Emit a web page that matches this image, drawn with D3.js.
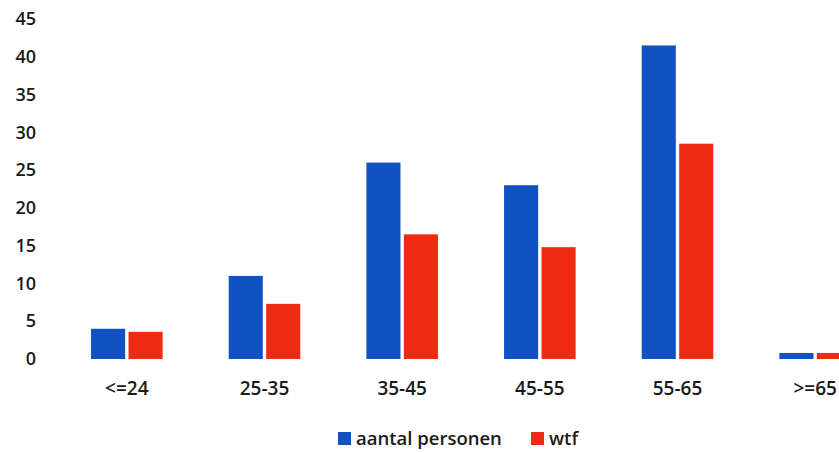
<!DOCTYPE html>
<html>
<head>
<meta charset="utf-8">
<script src="https://cdn.jsdelivr.net/npm/d3@7"></script>
<style>
  body { margin: 0; background: #fff; }
  svg { display: block; font-family: "Open Sans", "Liberation Sans", sans-serif; }
</style>
</head>
<body>
<div id="chart"></div>
<script>
// age groups and the two series
const categories = ["<=24", "25-35", "35-45", "45-55", "55-65", ">=65"];
const seriesNames = ["aantal personen", "wtf"];
const aantal = [4, 11, 26, 23, 41.5, 0.8];
const wtf = [3.6, 7.3, 16.5, 14.8, 28.5, 0.8];
const yTicks = [0, 5, 10, 15, 20, 25, 30, 35, 40, 45];

const colors = ["#1052c2", "#ee2c12"];

const width = 839, height = 453;

const svg = d3.select("#chart").append("svg")
    .attr("width", width)
    .attr("height", height);

// plot runs past the right edge in the scan, so the range does too
const x = d3.scaleBand()
    .domain(categories)
    .range([58, 884])
    .paddingInner(0.48)
    .paddingOuter(0.24);

const xInner = d3.scaleBand()
    .domain(seriesNames)
    .range([0, x.bandwidth()])
    .paddingInner(0.09);

const y = d3.scaleLinear()
    .domain([0, 45])
    .range([359, 19]);

const rows = categories.map((c, i) => ({cat: c, values: [aantal[i], wtf[i]]}));

// bars
svg.append("g")
    .selectAll("g")
    .data(rows)
    .join("g")
    .attr("transform", d => `translate(${x(d.cat)},0)`)
    .selectAll("rect")
    .data(d => d.values.map((v, j) => ({name: seriesNames[j], value: v, j})))
    .join("rect")
    .attr("x", d => xInner(d.name))
    .attr("y", d => y(d.value))
    .attr("width", xInner.bandwidth())
    .attr("height", d => y(0) - y(d.value))
    .attr("fill", d => colors[d.j]);

// y axis labels only, no line
const yAxis = svg.append("g")
    .attr("transform", "translate(36,0)")
    .call(d3.axisLeft(y).tickValues(yTicks).tickSize(0).tickPadding(0));
yAxis.select(".domain").remove();
yAxis.selectAll("text")
    .attr("font-size", 18)
    .attr("font-family", "Open Sans, Liberation Sans, sans-serif")
    .attr("font-weight", 600)
    .attr("fill", "#1a1a1a");

// x axis labels
const xAxis = svg.append("g")
    .attr("transform", `translate(0,${y(0) + 18})`)
    .call(d3.axisBottom(x).tickSize(0).tickPadding(4));
xAxis.select(".domain").remove();
xAxis.selectAll("text")
    .attr("font-size", 19)
    .attr("font-family", "Open Sans, Liberation Sans, sans-serif")
    .attr("font-weight", 600)
    .attr("fill", "#1a1a1a");

// legend
const legendX = [338, 531];
const legend = svg.append("g")
    .selectAll("g")
    .data(seriesNames)
    .join("g")
    .attr("transform", (d, i) => `translate(${legendX[i]},432)`);

legend.append("rect")
    .attr("width", 13)
    .attr("height", 13)
    .attr("fill", (d, i) => colors[i]);

legend.append("text")
    .attr("x", 18)
    .attr("y", 13)
    .attr("font-size", 18.5)
    .attr("font-weight", 600)
    .attr("fill", "#1a1a1a")
    .text(d => d);
</script>
</body>
</html>
